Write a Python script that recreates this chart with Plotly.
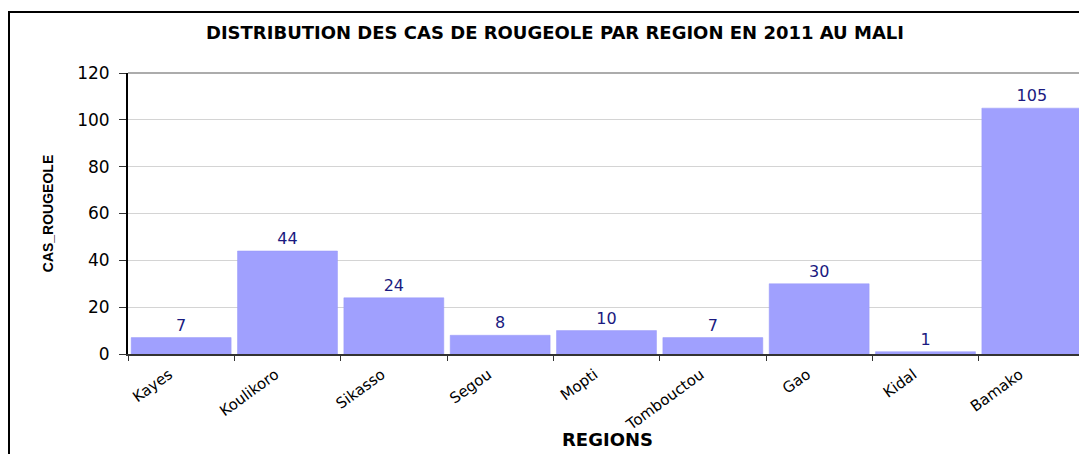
import plotly.graph_objects as go

regions = ["Kayes", "Koulikoro", "Sikasso", "Segou", "Mopti", "Tombouctou", "Gao", "Kidal", "Bamako"]
cas = [7, 44, 24, 8, 10, 7, 30, 1, 105]
y_ticks = [0, 20, 40, 60, 80, 100, 120]

# page has an 8px body margin, so the figure sits at (8, 8)
W, H = 1079, 446
L, R, T, B = 120, 2, 65, 100
pw = W - L - R
ph = H - T - B

FONT = "DejaVu Sans, Verdana, sans-serif"

fig = go.Figure()
fig.add_trace(go.Bar(
    x=regions, y=cas,
    marker=dict(color="#a0a0fe", line=dict(color="#9898f8", width=0.5)),
    width=0.94,
    text=[str(v) for v in cas],
    textposition="outside",
    textfont=dict(color="#1a1a80", size=16, family=FONT),
    cliponaxis=False,
))

fig.update_layout(
    width=W, height=H,
    margin=dict(l=L, r=R, t=T, b=B),
    paper_bgcolor="white", plot_bgcolor="white",
    showlegend=False,
    font=dict(family=FONT, color="black"),
    title=dict(text="<b>DISTRIBUTION DES CAS DE ROUGEOLE PAR REGION EN 2011 AU MALI</b>",
               x=547 / W, xanchor="center", y=1 - 25 / H, yanchor="middle",
               font=dict(size=18, family=FONT, color="black")),
)
fig.update_xaxes(
    tickangle=-36, tickfont=dict(size=15, family=FONT), ticks="outside", tickson="boundaries",
    ticklen=5, tickcolor="#333333", showline=True, linecolor="#333333", linewidth=2,
    ticklabelshift=-12, ticklabelstandoff=4,
    showgrid=False,
)
fig.update_yaxes(
    range=[0, 120], tickvals=y_ticks, tickfont=dict(size=17, family=FONT), ticks="outside",
    ticklen=7, tickcolor="#333333", ticklabelstandoff=6,
    showline=True, linecolor="black", linewidth=2,
    showgrid=True, gridcolor="#d4d4d4", gridwidth=1, zeroline=False,
    title=dict(text="<b>CAS_ROUGEOLE</b>",
               font=dict(size=14, family="Liberation Sans Narrow, Liberation Sans, Arial"),
               standoff=20),
)

# x-axis title as an annotation for exact placement
fig.add_annotation(text="<b>REGIONS</b>", xref="paper", yref="paper",
                   x=(599 - L) / pw, y=(H - B - 431) / ph,
                   xanchor="center", yanchor="middle", showarrow=False,
                   font=dict(size=18, family=FONT, color="black"))

# gray plot area border on top and right
fig.add_shape(type="line", xref="paper", yref="paper", x0=0, x1=1, y0=1, y1=1,
              line=dict(color="#909090", width=1.5))
fig.add_shape(type="line", xref="paper", yref="paper", x0=1, x1=1, y0=0, y1=1,
              line=dict(color="#909090", width=1.5))

# outer black frame
fx0 = (1 - L) / pw
fy1 = (H - B - 4) / ph
fig.add_shape(type="rect", xref="paper", yref="paper",
              x0=fx0, x1=1.05, y0=-0.6, y1=fy1,
              line=dict(color="black", width=2), layer="below")

fig.write_html("out.html")
